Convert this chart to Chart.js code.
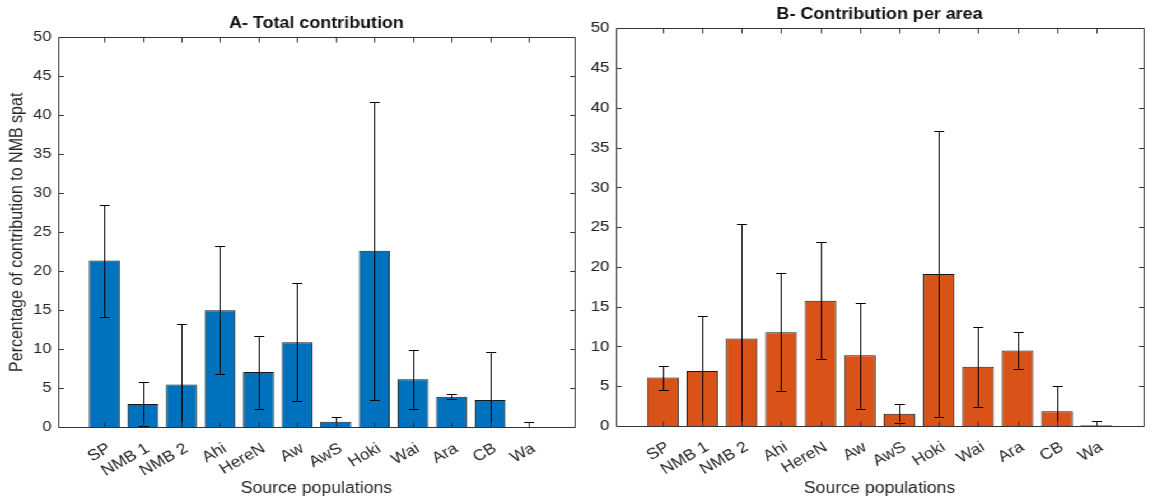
<!DOCTYPE html>
<html>
<head>
<meta charset="utf-8">
<script src="https://cdn.jsdelivr.net/npm/chart.js@4.4.1/dist/chart.umd.min.js"></script>
<style>
  html, body { margin: 0; padding: 0; background: #fff; overflow: hidden; }
  /* the reference figure is stretched a little horizontally; reproduce that */
  #wrap { position: absolute; left: 0; top: 0; width: 1031px; height: 499px; transform: scaleX(1.12); transform-origin: 0 0; }
  #cA { position: absolute; left: 0; top: 0; }
  #cB { position: absolute; left: 522px; top: 0; }
</style>
</head>
<body>
<div id="wrap">
  <canvas id="cA" width="522" height="499"></canvas>
  <canvas id="cB" width="508" height="499"></canvas>
</div>
<script>
// ── data ────────────────────────────────────────────────────────────────────
var categories = ["SP", "NMB 1", "NMB 2", "Ahi", "HereN", "Aw", "AwS", "Hoki", "Wai", "Ara", "CB", "Wa"];

// A- Total contribution (mean, lower and upper whisker)
var totalMean = [21.4, 3.0, 5.5, 15.0, 7.1, 10.9, 0.7, 22.65, 6.15, 3.93, 3.5, 0.02];
var totalLow  = [14.1, 0.2, 0, 6.8, 2.4, 3.4, 0.1, 3.46, 2.4, 3.6, 0, 0];
var totalHigh = [28.5, 5.8, 13.2, 23.2, 11.75, 18.5, 1.37, 41.7, 9.9, 4.3, 9.66, 0.64];

// B- Contribution per area
var areaMean = [6.1, 6.9, 11.0, 11.8, 15.75, 8.9, 1.55, 19.1, 7.45, 9.5, 1.84, 0.08];
var areaLow  = [4.5, 0, 0, 4.4, 8.4, 2.2, 0.33, 1.1, 2.43, 7.2, 0, 0];
var areaHigh = [7.6, 13.8, 25.4, 19.2, 23.1, 15.5, 2.8, 37.1, 12.5, 11.84, 4.98, 0.67];

var yTicks = [0, 5, 10, 15, 20, 25, 30, 35, 40, 45, 50];

// ── look ────────────────────────────────────────────────────────────────────
var SX = 1.12;                 // horizontal stretch of the wrapper
var FONT = "'Liberation Sans', Arial, Helvetica, sans-serif";
var INK = "#262626";
var BLUE = "#0072BD", ORANGE = "#D95319";

Chart.defaults.font.family = FONT;
Chart.defaults.color = INK;

function px(v) { return Math.round(v) + 0.5; }   // crisp 1px lines

// error bars from the low/high arrays, through the y scale
function errorBarPlugin(lows, highs) {
  return {
    id: "errbars",
    afterDatasetsDraw: function (chart) {
      var ctx = chart.ctx, ys = chart.scales.y, a = chart.chartArea;
      var bars = chart.getDatasetMeta(0).data;
      var cap = 5 / SX;
      ctx.save();
      ctx.beginPath(); ctx.rect(a.left, a.top, a.right - a.left, a.bottom - a.top); ctx.clip();
      ctx.strokeStyle = "#000"; ctx.lineWidth = 1;
      bars.forEach(function (b, i) {
        var x = px(b.x), y0 = px(ys.getPixelForValue(lows[i])), y1 = px(ys.getPixelForValue(highs[i]));
        ctx.beginPath();
        ctx.moveTo(x, y0); ctx.lineTo(x, y1);
        ctx.moveTo(x - cap, y1); ctx.lineTo(x + cap, y1);
        ctx.moveTo(x - cap, y0); ctx.lineTo(x + cap, y0);
        ctx.stroke();
      });
      ctx.restore();
    }
  };
}

// MATLAB style box with inward ticks on all four sides
var boxPlugin = {
  id: "box",
  afterDraw: function (chart) {
    var ctx = chart.ctx, a = chart.chartArea, xs = chart.scales.x, ys = chart.scales.y;
    var L = px(a.left), R = px(a.right), T = px(a.top), B = px(a.bottom);
    ctx.save();
    ctx.strokeStyle = "#333"; ctx.lineWidth = 1;
    ctx.beginPath();
    ctx.rect(L, T, R - L, B - T);
    yTicks.forEach(function (v) {
      var y = px(ys.getPixelForValue(v));
      ctx.moveTo(L, y); ctx.lineTo(L + 5 / SX, y);
      ctx.moveTo(R, y); ctx.lineTo(R - 5 / SX, y);
    });
    categories.forEach(function (c, i) {
      var x = px(xs.getPixelForValue(i + 1));
      ctx.moveTo(x, B); ctx.lineTo(x, B - 5);
      ctx.moveTo(x, T); ctx.lineTo(x, T + 5);
    });
    ctx.stroke();
    ctx.restore();
  }
};

function makeChart(id, title, means, lows, highs, color, lay) {
  return new Chart(document.getElementById(id), {
    type: "bar",
    data: {
      datasets: [{
        data: means.map(function (v, i) { return { x: i + 1, y: v }; }),
        backgroundColor: color,
        borderColor: "rgba(0,0,0,0.9)",
        borderWidth: 1,
        barPercentage: 0.8,
        categoryPercentage: 1
      }]
    },
    options: {
      responsive: false,
      animation: false,
      events: [],
      layout: { padding: { left: 0, right: lay.padRight, top: 0, bottom: 0 } },
      plugins: {
        legend: { display: false },
        tooltip: { enabled: false },
        title: {
          display: true, text: title, color: "#111", fullSize: false,
          font: { size: 16, weight: "bold" },
          padding: { top: lay.titleTop, bottom: lay.titleBottom }
        }
      },
      scales: {
        x: {
          type: "linear", min: -0.2, max: 13.2, offset: false,
          grid: { display: false, drawTicks: false, offset: false }, border: { display: false },
          afterBuildTicks: function (s) { s.ticks = categories.map(function (c, i) { return { value: i + 1 }; }); },
          afterFit: function (s) { s.height = lay.xHeight; },
          ticks: {
            autoSkip: false, minRotation: 32, maxRotation: 32, padding: 12, labelOffset: 4.5,
            font: { size: 15.5 }, color: INK,
            callback: function (v) { return categories[v - 1] || ""; }
          },
          title: { display: true, text: "Source populations", font: { size: 15.8 }, color: INK, padding: { top: 0, bottom: 1 } }
        },
        y: {
          min: 0, max: 50,
          grid: { display: false, drawTicks: false }, border: { display: false },
          afterBuildTicks: function (s) { s.ticks = yTicks.map(function (v) { return { value: v }; }); },
          afterFit: function (s) { s.width = lay.yWidth; },
          ticks: { font: { size: 15 }, color: INK, padding: 5.6 },
          title: {
            display: lay.yTitle, text: "Percentage of contribution to NMB spat",
            font: { size: 16 }, color: INK, padding: { top: 6.4, bottom: 0 }
          }
        }
      }
    },
    plugins: [errorBarPlugin(lows, highs), boxPlugin]
  });
}

makeChart("cA", "A- Total contribution", totalMean, totalLow, totalHigh, BLUE,
  { padRight: 522 - 575 / SX, titleTop: 14, titleBottom: 4.1, xHeight: 499 - 427.3, yWidth: 58 / SX, yTitle: true });
makeChart("cB", "B- Contribution per area", areaMean, areaLow, areaHigh, ORANGE,
  { padRight: 10 / SX, titleTop: 5, titleBottom: 4.1, xHeight: 499 - 426, yWidth: 31 / SX, yTitle: false });
</script>
</body>
</html>
